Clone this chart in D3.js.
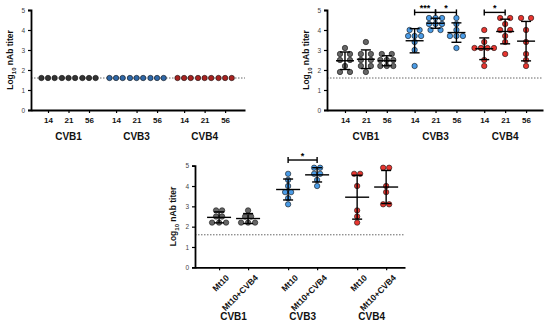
<!DOCTYPE html>
<html>
<head>
<meta charset="utf-8">
<script src="https://cdn.jsdelivr.net/npm/d3@7"></script>
<style>
  body { margin: 0; background: #fff; }
  svg { font-family: "Liberation Sans", Arial, sans-serif; }
</style>
</head>
<body>
<svg id="chart" width="550" height="328"></svg>
<script>
// ---- data (log10 nAb titer) ----
const viruses = ['CVB1', 'CVB3', 'CVB4'];
const days = ['14', '21', '56'];
const vaccines = ['Mt10', 'Mt10+CVB4'];
const detectionLimit = 1.6;
const yTicks = [0, 1, 2, 3, 4, 5];

// panel A: all below the detection limit
const titersA = [
  [1.6, 1.6, 1.6], [1.6, 1.6, 1.6], [1.6, 1.6, 1.6],
  [1.6, 1.6, 1.6], [1.6, 1.6, 1.6], [1.6, 1.6, 1.6],
  [1.6, 1.6, 1.6], [1.6, 1.6, 1.6], [1.6, 1.6, 1.6]
];

// panel B: per virus, days 14 / 21 / 56
const titersB = [
  [3.1, 2.8, 2.8, 2.5, 2.5, 2.2, 1.9, 1.9],
  [3.4, 2.8, 2.8, 2.5, 2.5, 2.2, 2.2, 1.9],
  [2.8, 2.8, 2.5, 2.5, 2.5, 2.2, 2.2, 2.2],
  [4.0, 4.0, 3.7, 3.7, 3.7, 3.4, 3.0, 2.2],
  [4.6, 4.6, 4.6, 4.3, 4.3, 4.3, 4.0, 4.0],
  [4.6, 4.3, 4.0, 3.7, 3.7, 3.7, 3.1],
  [4.0, 3.4, 3.1, 3.1, 3.1, 3.1, 2.5, 2.2],
  [4.6, 4.6, 4.3, 4.0, 4.0, 3.7, 3.4, 2.8],
  [4.6, 4.6, 4.0, 3.4, 2.8, 2.5, 2.2]
];

// panel C: per virus, Mt10 / Mt10+CVB4
const titersC = [
  [2.8, 2.8, 2.5, 2.5, 2.2, 2.2, 2.2],
  [2.8, 2.5, 2.5, 2.2, 2.2, 2.2],
  [4.6, 4.3, 4.0, 3.7, 3.7, 3.4, 3.1],
  [4.9, 4.9, 4.6, 4.6, 4.3, 4.0],
  [4.6, 4.6, 4.0, 2.8, 2.5, 2.2],
  [4.9, 4.9, 4.0, 3.7, 3.1, 3.1]
];

// significance brackets: virus index, from / to column, level, label
const sigB = [
  { v: 1, a: 0, b: 1, y: 4.88, label: '***' },
  { v: 1, a: 1, b: 2, y: 4.88, label: '*' },
  { v: 2, a: 0, b: 1, y: 4.88, label: '*' }
];
const sigC = [
  { v: 1, a: 0, b: 1, y: 5.28, label: '*' }
];

const svg = d3.select('#chart');

function drawPanel(p) {
  const g = svg.append('g');
  const y = d3.scaleLinear().domain([0, 5]).range([p.y0, p.y5]);
  const x = d3.scaleLinear().domain(p.xDomain).range([p.axisX, p.endX]);
  const nPer = p.cols.length;
  const slot = (vi, ci) => vi * p.groupStep + ci;

  // detection limit
  g.append('line')
    .attr('x1', p.axisX).attr('x2', p.endX)
    .attr('y1', y(detectionLimit)).attr('y2', y(detectionLimit))
    .attr('stroke', '#666').attr('stroke-width', 1)
    .attr('stroke-dasharray', '1.5,1.5');

  // dots
  p.values.forEach((vals, i) => {
    const vi = Math.floor(i / nPer), ci = i % nPer;
    const cx = x(slot(vi, ci));
    const rows = d3.groups(vals, d => d);
    rows.forEach(([val, arr]) => {
      const n = arr.length;
      const sp = (n === 2 && p.pairSpacing) ? p.pairSpacing : p.spacing;
      arr.forEach((d, k) => {
        g.append('circle')
          .attr('cx', cx + (k - (n - 1) / 2) * sp)
          .attr('cy', y(d))
          .attr('r', p.r)
          .attr('fill', p.colors[vi])
          .attr('stroke', '#111')
          .attr('stroke-width', 0.6);
      });
    });

    if (p.showMean) {
      const m = d3.mean(vals), sd = d3.deviation(vals);
      g.append('line').attr('x1', cx).attr('x2', cx)
        .attr('y1', y(m + sd)).attr('y2', y(m - sd))
        .attr('stroke', '#000').attr('stroke-width', 1.4);
      [m + sd, m - sd].forEach(v => {
        g.append('line').attr('x1', cx - p.capW).attr('x2', cx + p.capW)
          .attr('y1', y(v)).attr('y2', y(v))
          .attr('stroke', '#000').attr('stroke-width', 1.4);
      });
      g.append('line').attr('x1', cx - p.meanW).attr('x2', cx + p.meanW)
        .attr('y1', y(m)).attr('y2', y(m))
        .attr('stroke', '#000').attr('stroke-width', 1.4);
    }
  });

  // y axis
  const ya = g.append('g')
    .attr('transform', `translate(${p.axisX},0)`)
    .call(d3.axisLeft(y).tickValues(yTicks).tickFormat(d3.format('d'))
      .tickSize(3).tickPadding(3));
  ya.select('.domain').attr('stroke-width', 1.8);
  ya.selectAll('.tick line').attr('stroke-width', 1.2);
  ya.selectAll('.tick text').attr('font-size', 6.5).attr('fill', '#444');

  // x axis
  const tickVals = [];
  const tickLab = [];
  viruses.forEach((v, vi) => p.cols.forEach((c, ci) => {
    tickVals.push(slot(vi, ci));
    tickLab.push(c);
  }));
  const xa = g.append('g')
    .attr('transform', `translate(0,${p.y0})`)
    .call(d3.axisBottom(x).tickValues(tickVals)
      .tickFormat((d, i) => tickLab[i]).tickSize(3).tickPadding(4).tickSizeOuter(0));
  xa.select('.domain').attr('stroke-width', 1.8);
  xa.selectAll('.tick line').attr('stroke-width', 1.2);
  xa.selectAll('.tick text')
    .attr('font-size', p.tickFont).attr('font-weight', 'bold').attr('fill', '#111');
  if (p.rotate) {
    xa.selectAll('.tick text')
      .attr('text-anchor', 'end')
      .attr('dy', '0.35em')
      .attr('transform', 'translate(3,4) rotate(-45)');
  }

  // virus labels
  viruses.forEach((v, vi) => {
    g.append('text')
      .attr('x', x(slot(vi, (nPer - 1) / 2)))
      .attr('y', p.groupLabelY)
      .attr('text-anchor', 'middle')
      .attr('font-size', 10).attr('font-weight', 'bold').attr('fill', '#111')
      .text(v);
  });

  // y label
  const yl = g.append('text')
    .attr('transform', `translate(${p.labelX},${(p.y0 + p.y5) / 2}) rotate(-90)`)
    .attr('text-anchor', 'middle')
    .attr('font-size', 8.5).attr('font-weight', 'bold').attr('fill', '#111');
  yl.append('tspan').text('Log');
  yl.append('tspan').attr('font-size', 6).attr('dy', 2.5).text('10');
  yl.append('tspan').attr('dy', -2.5).text(' nAb titer');

  // brackets
  (p.sig || []).forEach(s => {
    const xa1 = x(slot(s.v, s.a)), xb1 = x(slot(s.v, s.b));
    const yy = y(s.y);
    g.append('line').attr('x1', xa1).attr('x2', xb1).attr('y1', yy).attr('y2', yy)
      .attr('stroke', '#000').attr('stroke-width', 1.4);
    [xa1, xb1].forEach(xx => {
      g.append('line').attr('x1', xx).attr('x2', xx).attr('y1', yy - 3).attr('y2', yy + 3)
        .attr('stroke', '#000').attr('stroke-width', 1.4);
    });
    g.append('text')
      .attr('x', (xa1 + xb1) / 2).attr('y', yy - 1.5)
      .attr('text-anchor', 'middle')
      .attr('font-size', 9).attr('font-weight', 'bold')
      .text(s.label);
  });
}

drawPanel({
  values: titersA, cols: days, groupStep: 3.32,
  xDomain: [-0.83, 9.61], axisX: 31, endX: 245,
  y0: 110, y5: 10, r: 2.7, spacing: 6.6,
  colors: ['#333333', '#2f68a8', '#a82220'],
  showMean: false, tickFont: 8, groupLabelY: 140, labelX: 13
});

drawPanel({
  values: titersB, cols: days, groupStep: 3.33,
  xDomain: [-0.86, 9.47], axisX: 327, endX: 543,
  y0: 110, y5: 10, r: 2.7, spacing: 6.5, pairSpacing: 10,
  colors: ['#666666', '#4a9be6', '#e8352f'],
  showMean: true, meanW: 9, capW: 5, sig: sigB,
  tickFont: 8, groupLabelY: 140, labelX: 309
});

drawPanel({
  values: titersC, cols: vaccines, groupStep: 2.38,
  xDomain: [-0.83, 6.41], axisX: 195, endX: 405,
  y0: 267.3, y5: 165.7, r: 2.7, spacing: 7, pairSpacing: 6,
  colors: ['#666666', '#4a9be6', '#e8352f'],
  showMean: true, meanW: 12, capW: 5, sig: sigC,
  tickFont: 8.5, rotate: true, groupLabelY: 320, labelX: 176
});
</script>
</body>
</html>
